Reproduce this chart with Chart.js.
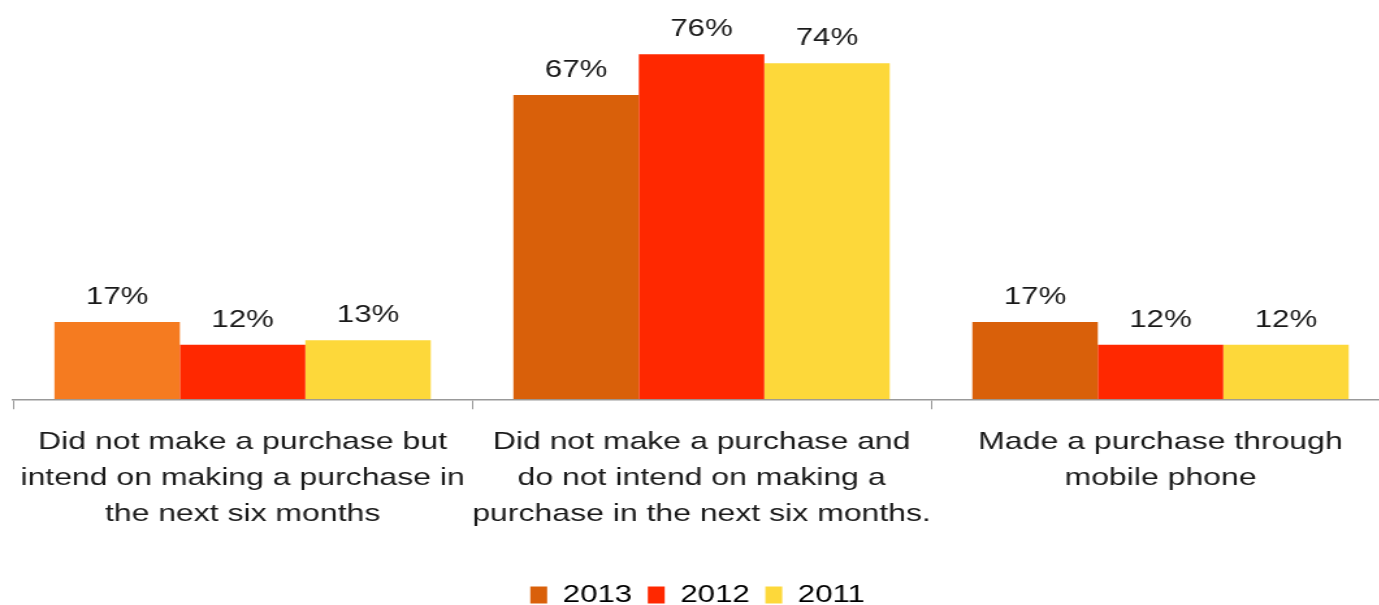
<!DOCTYPE html>
<html>
<head>
<meta charset="utf-8">
<script src="https://cdn.jsdelivr.net/npm/chart.js@4/dist/chart.umd.min.js"></script>
<style>
  html, body { margin: 0; padding: 0; background: #fff; overflow: hidden; }
  /* the canvas is drawn narrow and widened to give the wide lettering */
  #chart { display: block; width: 1390px !important; height: 605px !important; }
</style>
</head>
<body>
<canvas id="chart" width="1069" height="605"></canvas>
<script>
const categories = [
  ['Did not make a purchase but', 'intend on making a purchase in', 'the next six months'],
  ['Did not make a purchase and', 'do not intend on making a', 'purchase in the next six months.'],
  ['Made a purchase through', 'mobile phone'],
];
const seriesNames = ['2013', '2012', '2011'];
const values2013 = [17, 67, 17];
const values2012 = [12, 76, 12];
const values2011 = [13, 74, 12];
const yMax = 80;

const FONT = "'Liberation Sans', Arial, sans-serif";
const TEXT = '#1a1a1a';

// value labels above each bar
const barLabels = {
  id: 'barLabels',
  afterDatasetsDraw(chart) {
    const ctx = chart.ctx;
    ctx.save();
    ctx.font = '24px ' + FONT;
    ctx.fillStyle = TEXT;
    ctx.textAlign = 'center';
    ctx.textBaseline = 'alphabetic';
    chart.data.datasets.forEach((ds, i) => {
      chart.getDatasetMeta(i).data.forEach((bar, j) => {
        ctx.fillText(ds.data[j] + '%', bar.x, bar.y - 18);
      });
    });
    ctx.restore();
  },
};

new Chart(document.getElementById('chart'), {
  type: 'bar',
  data: {
    labels: categories,
    datasets: [
      { label: seriesNames[0], data: values2013, backgroundColor: ['#F57B20', '#D9600A', '#D9600A'] },
      { label: seriesNames[1], data: values2012, backgroundColor: '#FF2800' },
      { label: seriesNames[2], data: values2011, backgroundColor: '#FDD83A' },
    ],
  },
  options: {
    responsive: false,
    devicePixelRatio: 1,
    animation: false,
    categoryPercentage: 0.82,
    barPercentage: 1,
    layout: { padding: { top: 36, left: 4, right: 0, bottom: -12 } },
    plugins: {
      legend: {
        position: 'bottom',
        labels: {
          font: { size: 24, family: FONT },
          color: TEXT,
          boxWidth: 13,
          boxHeight: 17,
          padding: 12,
          generateLabels: (chart) => seriesNames.map((name, i) => ({
            text: name,
            fillStyle: i === 0 ? '#D9600A' : chart.data.datasets[i].backgroundColor,
            strokeStyle: 'transparent',
            lineWidth: 0,
            datasetIndex: i,
          })),
        },
      },
      tooltip: { enabled: false },
    },
    scales: {
      x: {
        // leave room between the category labels and the legend
        afterFit: (scale) => { scale.height += 24; },
        grid: {
          offset: true,
          drawOnChartArea: false,
          tickLength: 10,
          color: '#999',
        },
        border: { color: '#999', width: 1.5 },
        ticks: {
          font: { size: 24.6, family: FONT, lineHeight: 1.46 },
          color: TEXT,
          maxRotation: 0,
          autoSkip: false,
          padding: 15,
        },
      },
      y: {
        display: false,
        min: 0,
        max: yMax,
      },
    },
  },
  plugins: [barLabels],
});
</script>
</body>
</html>
